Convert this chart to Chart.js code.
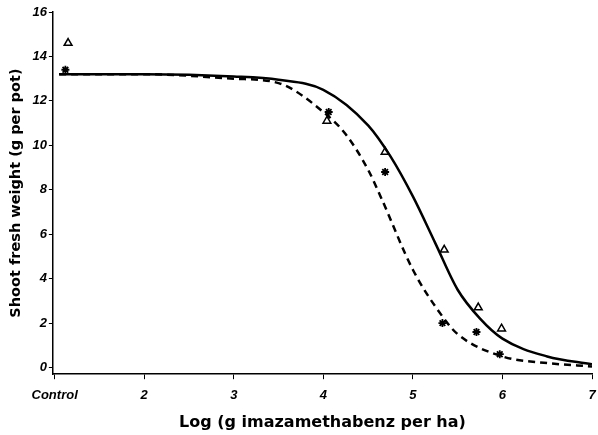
<!DOCTYPE html>
<html>
<head>
<meta charset="utf-8">
<script src="https://cdn.jsdelivr.net/npm/chart.js@4.4.0/dist/chart.umd.min.js"></script>
<style>
  html, body { margin: 0; padding: 0; background: #fff; }
  #wrap { width: 598px; height: 435px; }
</style>
</head>
<body>
<div id="wrap"><canvas id="chart" width="598" height="435"></canvas></div>
<script>
// observed points (x = log dose, 1 = Control)
const triX = [1.15, 4.04, 4.69, 5.35, 5.73, 5.99];
const triY = [14.6, 11.1, 9.7, 5.3, 2.7, 1.75];
const starX = [1.12, 4.06, 4.69, 5.33, 5.71, 5.97];
const starY = [13.4, 11.5, 8.8, 2.0, 1.6, 0.6];

// fitted curves
const solidX = [1.05, 2, 3, 3.5, 4, 4.5, 4.75, 5, 5.25, 5.5, 5.75, 6, 6.5, 7];
const solidY = [13.2, 13.2, 13.1, 12.95, 12.5, 10.9, 9.5, 7.7, 5.6, 3.5, 2.2, 1.3, 0.5, 0.15];
const dashX = [1.05, 2, 3, 3.5, 4, 4.25, 4.5, 4.65, 5, 5.33, 5.5, 6, 6.5, 7];
const dashY = [13.2, 13.2, 13.0, 12.8, 11.5, 10.5, 8.9, 7.6, 4.4, 2.3, 1.5, 0.5, 0.2, 0.05];

const xTicks = [1, 2, 3, 4, 5, 6, 7];
const yTicks = [0, 2, 4, 6, 8, 10, 12, 14, 16];

const toPts = (xs, ys) => xs.map((x, i) => ({ x: x, y: ys[i] }));

const tickFont = { family: "Liberation Sans", size: 13, weight: "bold", style: "italic" };

new Chart("chart", {
  type: "scatter",
  data: {
    datasets: [
      {
        type: "line",
        data: toPts(solidX, solidY),
        borderColor: "#000",
        borderWidth: 2.5,
        pointRadius: 0,
        cubicInterpolationMode: "monotone",
      },
      {
        type: "line",
        data: toPts(dashX, dashY),
        borderColor: "#000",
        borderWidth: 2.5,
        borderDash: [7, 5],
        pointRadius: 0,
        cubicInterpolationMode: "monotone",
      },
      {
        data: toPts(triX, triY),
        pointStyle: "triangle",
        pointRadius: 4.5,
        borderColor: "#000",
        backgroundColor: "#fff",
        borderWidth: 1.5,
      },
      {
        data: toPts(starX, starY),
        pointStyle: "star",
        pointRadius: 4,
        borderColor: "#000",
        borderWidth: 1.8,
      },
    ],
  },
  options: {
    responsive: false,
    animation: false,
    layout: { padding: { top: 12, right: 0, left: 4, bottom: 3 } },
    plugins: {
      legend: { display: false },
      tooltip: { enabled: false },
    },
    scales: {
      x: {
        type: "linear",
        min: 0.98,
        max: 7,
        afterBuildTicks: (axis) => {
          axis.ticks = xTicks.map((v) => ({ value: v }));
        },
        afterFit: (axis) => {
          axis.paddingRight = 4;
        },
        ticks: {
          color: "#000",
          font: tickFont,
          padding: 8,
          maxRotation: 0,
          callback: (v) => (v === 1 ? "Control" : v),
        },
        grid: { drawOnChartArea: false, color: "#000", tickLength: 5 },
        border: { color: "#000", width: 1.5 },
        title: {
          display: true,
          text: "Log (g imazamethabenz per ha)",
          color: "#000",
          font: { family: "DejaVu Sans", size: 16, weight: "bold" },
          padding: { top: 2, bottom: 0 },
        },
      },
      y: {
        min: -0.3,
        max: 16,
        afterBuildTicks: (axis) => {
          axis.ticks = yTicks.map((v) => ({ value: v }));
        },
        ticks: { color: "#000", font: tickFont, padding: 2 },
        grid: { drawOnChartArea: false, color: "#000", tickLength: 4 },
        border: { color: "#000", width: 1.5 },
        title: {
          display: true,
          text: "Shoot fresh weight (g per pot)",
          color: "#000",
          font: { family: "DejaVu Sans", size: 14.5, weight: "bold" },
          padding: { bottom: 5 },
        },
      },
    },
  },
});
</script>
</body>
</html>
